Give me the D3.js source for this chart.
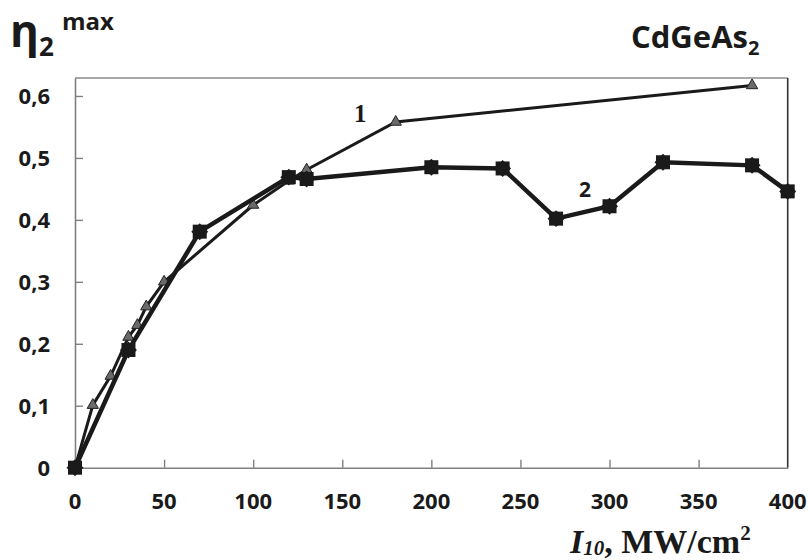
<!DOCTYPE html>
<html>
<head>
<meta charset="utf-8">
<script src="https://cdn.jsdelivr.net/npm/d3@7"></script>
<style>
  body { margin: 0; background: #fff; }
  text { fill: #1a1a1a; }
</style>
</head>
<body>
<svg id="chart" width="810" height="560"></svg>
<script>
// curve 1 (triangles) and curve 2 (stars)
const curve1X = [0, 10, 20, 30, 35, 40, 50, 100, 120, 130, 180, 380];
const curve1Y = [0, 0.101, 0.148, 0.211, 0.23, 0.26, 0.30, 0.424, 0.463, 0.481, 0.558, 0.617];
const curve2X = [0, 30, 70, 120, 130, 200, 240, 270, 300, 330, 380, 400];
const curve2Y = [0, 0.19, 0.381, 0.469, 0.466, 0.485, 0.483, 0.402, 0.422, 0.493, 0.488, 0.446];
const xTicks = [0, 50, 100, 150, 200, 250, 300, 350, 400];
const yTicks = [0, 0.1, 0.2, 0.3, 0.4, 0.5, 0.6];

const plotL = 75, plotR = 787.7, plotT = 78, plotB = 467.7;
const svg = d3.select('#chart');

const x = d3.scaleLinear().domain([0, 400]).range([plotL, plotR]);
const y = d3.scaleLinear().domain([0, 0.629]).range([plotB, plotT]);

const fmt = d => d === 0 ? '0' : d3.format('.1f')(d).replace('.', ',');

// frame: top and right borders
svg.append('line').attr('x1', plotL).attr('x2', plotR).attr('y1', plotT).attr('y2', plotT)
  .attr('stroke', '#555').attr('stroke-width', 1.2);
svg.append('line').attr('x1', plotR).attr('x2', plotR).attr('y1', plotT).attr('y2', plotB)
  .attr('stroke', '#333').attr('stroke-width', 1.6);

// axes (ticks pointing inward)
const xAxis = svg.append('g').attr('transform', `translate(0,${plotB})`)
  .call(d3.axisBottom(x).tickValues(xTicks.slice(1, -1)).tickSizeInner(-8).tickSizeOuter(0).tickFormat(''));
const yAxis = svg.append('g').attr('transform', `translate(${plotL},0)`)
  .call(d3.axisLeft(y).tickValues(yTicks.slice(1)).tickSizeInner(-8).tickSizeOuter(0).tickFormat(''));
[xAxis, yAxis].forEach(g => {
  g.select('.domain').attr('stroke', '#808080').attr('stroke-width', 1.6);
  g.selectAll('.tick line').attr('stroke', '#808080').attr('stroke-width', 1.4);
});

// tick labels
svg.append('g').selectAll('text').data(xTicks).join('text')
  .attr('x', d => x(d)).attr('y', 509)
  .attr('text-anchor', 'middle')
  .style('font', 'bold 22px "Open Sans"')
  .text(d => d);
svg.append('g').selectAll('text').data(yTicks).join('text')
  .attr('x', 50).attr('y', d => y(d) + 8)
  .attr('text-anchor', 'end')
  .style('font', 'bold 22px "Open Sans"')
  .text(fmt);

const pts1 = curve1X.map((d, i) => [d, curve1Y[i]]);
const pts2 = curve2X.map((d, i) => [d, curve2Y[i]]);
const line = d3.line().x(d => x(d[0])).y(d => y(d[1]));

// curve 1
svg.append('path').datum(pts1).attr('d', line)
  .attr('fill', 'none').attr('stroke', '#1a1a1a').attr('stroke-width', 3);
svg.append('g').selectAll('path').data(pts1).join('path')
  .attr('transform', d => `translate(${x(d[0])},${y(d[1])})`)
  .attr('d', d3.symbol(d3.symbolTriangle, 55))
  .attr('fill', '#6a6a6a').attr('stroke', '#222').attr('stroke-width', 1);

// curve 2
svg.append('path').datum(pts2).attr('d', line)
  .attr('fill', 'none').attr('stroke', '#1a1a1a').attr('stroke-width', 4.5);
const m2 = svg.append('g').selectAll('g').data(pts2).join('g')
  .attr('transform', d => `translate(${x(d[0])},${y(d[1])})`);
m2.append('rect').attr('x', -7).attr('y', -7).attr('width', 14).attr('height', 14).attr('fill', '#1a1a1a');
m2.append('rect').attr('x', -6).attr('y', -6).attr('width', 12).attr('height', 12)
  .attr('transform', 'rotate(45)').attr('fill', '#1a1a1a');

// curve labels
svg.append('text').attr('x', 354).attr('y', 122)
  .style('font', 'bold 25px "Liberation Serif"').text('1');
svg.append('text').attr('x', 579).attr('y', 197)
  .style('font', 'bold 21px "Open Sans"').text('2');

// y label: eta_2^max
const yl = svg.append('text').attr('x', 10).attr('y', 47);
yl.append('tspan').style('font', 'bold 44px "Open Sans"').text('η');
yl.append('tspan').attr('dy', 9).style('font', 'bold 26px "Open Sans"').text('2');
yl.append('tspan').attr('x', 62).attr('y', 30).style('font', 'bold 24px "Open Sans"').text('max');

// compound label
const cl = svg.append('text').attr('x', 631).attr('y', 48).style('font', 'bold 31px "Open Sans"');
cl.append('tspan').text('CdGeAs');
cl.append('tspan').attr('dy', 7).style('font-size', '20px').text('2');

// x label
const xl = svg.append('text').attr('x', 570).attr('y', 553).style('font', 'bold 34px "Liberation Serif"');
xl.append('tspan').style('font-style', 'italic').text('I');
xl.append('tspan').attr('dy', 2).style('font-style', 'italic').style('font-size', '21px').text('10');
xl.append('tspan').attr('dy', -2).text(', MW/cm');
xl.append('tspan').attr('dy', -13).style('font-size', '21px').text('2');
</script>
</body>
</html>
